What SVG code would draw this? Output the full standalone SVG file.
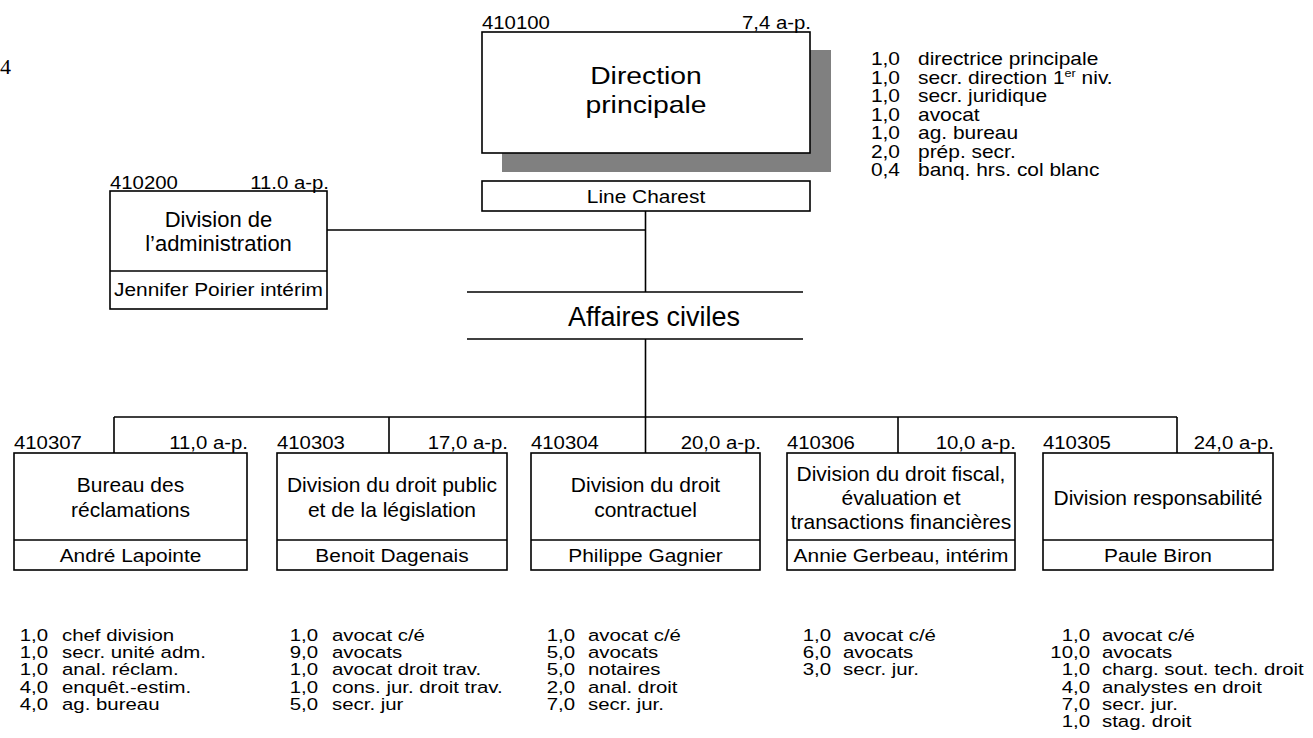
<svg xmlns="http://www.w3.org/2000/svg" width="1313" height="738" viewBox="0 0 1313 738">
<style>
text{font-family:"Liberation Sans",Arial,sans-serif;fill:#000}
.box{fill:#fff;stroke:#000;stroke-width:1.6}
.ln{stroke:#000;stroke-width:1.6;fill:none}
.t{font-size:21px;text-anchor:middle}
.big{font-size:24px;text-anchor:middle}
.nm{font-size:18.5px;text-anchor:middle}
.lb{font-size:18.5px}
.e{text-anchor:end}
.tl{font-size:18.2px}
.bl{font-size:17px}
</style>
<rect width="1313" height="738" fill="#fff"/>
<text x="0" y="74" style="font-family:'Liberation Serif',serif;font-size:22px">4</text>

<g id="connectors">
<path class="ln" d="M645.5 211V292M327 230H645.5M645.5 339V417M114 417H1177M114 417V453M389 417V453M645.5 417V453M898 417V453M1177 417V453"/>
</g>

<g id="n410100">
<rect x="502" y="50" width="329" height="122" fill="#808080"/>
<rect class="box" x="482" y="32" width="328" height="121"/>
<text class="lb" transform="translate(482 29) scale(1.1 1)">410100</text>
<text class="lb e" transform="translate(811 29) scale(1.1 1)">7,4 a-p.</text>
<text class="big" transform="translate(646 84) scale(1.18 1)">Direction</text>
<text class="big" transform="translate(646 113) scale(1.18 1)">principale</text>
<rect class="box" x="482" y="181" width="328" height="30"/>
<text class="nm" transform="translate(646 203) scale(1.13 1)">Line Charest</text>
</g>

<g id="staff410100">
<text class="tl e" transform="translate(900 65) scale(1.15 1)">1,0</text><text class="tl" transform="translate(918 65) scale(1.15 1)">directrice principale</text>
<text class="tl e" transform="translate(900 83.5) scale(1.15 1)">1,0</text><text class="tl" transform="translate(918 83.5) scale(1.15 1)">secr. direction 1<tspan font-size="11" dy="-7">er</tspan><tspan dy="7"> niv.</tspan></text>
<text class="tl e" transform="translate(900 102) scale(1.15 1)">1,0</text><text class="tl" transform="translate(918 102) scale(1.15 1)">secr. juridique</text>
<text class="tl e" transform="translate(900 120.5) scale(1.15 1)">1,0</text><text class="tl" transform="translate(918 120.5) scale(1.15 1)">avocat</text>
<text class="tl e" transform="translate(900 139) scale(1.15 1)">1,0</text><text class="tl" transform="translate(918 139) scale(1.15 1)">ag. bureau</text>
<text class="tl e" transform="translate(900 157.5) scale(1.15 1)">2,0</text><text class="tl" transform="translate(918 157.5) scale(1.15 1)">prép. secr.</text>
<text class="tl e" transform="translate(900 176) scale(1.15 1)">0,4</text><text class="tl" transform="translate(918 176) scale(1.15 1)">banq. hrs. col blanc</text>
</g>

<g id="n410200">
<rect class="box" x="110" y="191" width="217" height="118"/>
<line class="ln" x1="110" y1="271" x2="327" y2="271"/>
<text class="lb" transform="translate(110 189) scale(1.1 1)">410200</text>
<text class="lb e" transform="translate(329 189) scale(1.1 1)">11.0 a-p.</text>
<text class="t" x="218.5" y="227" style="font-size:22px">Division de</text>
<text class="t" x="218.5" y="251" style="font-size:22px">l’administration</text>
<text class="nm" transform="translate(218.5 296) scale(1.13 1)">Jennifer Poirier intérim</text>
</g>

<g id="affaires">
<line class="ln" x1="467" y1="292" x2="803" y2="292"/>
<line class="ln" x1="467" y1="339" x2="803" y2="339"/>
<text x="654" y="326" style="font-size:27px;text-anchor:middle">Affaires civiles</text>
</g>

<g id="n410307">
<rect class="box" x="14" y="453" width="233" height="117"/>
<line class="ln" x1="14" y1="540" x2="247" y2="540"/>
<text class="lb" transform="translate(14 449) scale(1.1 1)">410307</text>
<text class="lb e" transform="translate(248 449) scale(1.1 1)">11,0 a-p.</text>
<text class="t" x="130.5" y="491.5">Bureau des</text>
<text class="t" x="130.5" y="516.5">réclamations</text>
<text class="nm" transform="translate(130.5 562) scale(1.13 1)">André Lapointe</text>
</g>

<g id="n410303">
<rect class="box" x="277" y="453" width="230" height="117"/>
<line class="ln" x1="277" y1="540" x2="507" y2="540"/>
<text class="lb" transform="translate(277 449) scale(1.1 1)">410303</text>
<text class="lb e" transform="translate(508 449) scale(1.1 1)">17,0 a-p.</text>
<text class="t" x="392" y="491.5">Division du droit public</text>
<text class="t" x="392" y="516.5">et de la législation</text>
<text class="nm" transform="translate(392 562) scale(1.13 1)">Benoit Dagenais</text>
</g>

<g id="n410304">
<rect class="box" x="531" y="453" width="229" height="117"/>
<line class="ln" x1="531" y1="540" x2="760" y2="540"/>
<text class="lb" transform="translate(531 449) scale(1.1 1)">410304</text>
<text class="lb e" transform="translate(761 449) scale(1.1 1)">20,0 a-p.</text>
<text class="t" x="645.5" y="491.5">Division du droit</text>
<text class="t" x="645.5" y="516.5">contractuel</text>
<text class="nm" transform="translate(645.5 562) scale(1.13 1)">Philippe Gagnier</text>
</g>

<g id="n410306">
<rect class="box" x="787" y="453" width="228" height="117"/>
<line class="ln" x1="787" y1="540" x2="1015" y2="540"/>
<text class="lb" transform="translate(787 449) scale(1.1 1)">410306</text>
<text class="lb e" transform="translate(1016 449) scale(1.1 1)">10,0 a-p.</text>
<text class="t" x="901" y="480.5">Division du droit fiscal,</text>
<text class="t" x="901" y="504.5">évaluation et</text>
<text class="t" x="901" y="528.5">transactions financières</text>
<text class="nm" transform="translate(901 562) scale(1.13 1)">Annie Gerbeau, intérim</text>
</g>

<g id="n410305">
<rect class="box" x="1043" y="453" width="230" height="117"/>
<line class="ln" x1="1043" y1="540" x2="1273" y2="540"/>
<text class="lb" transform="translate(1043 449) scale(1.1 1)">410305</text>
<text class="lb e" transform="translate(1274 449) scale(1.1 1)">24,0 a-p.</text>
<text class="t" x="1158" y="504.5">Division responsabilité</text>
<text class="nm" transform="translate(1158 562) scale(1.13 1)">Paule Biron</text>
</g>

<g id="staff410307">
<text class="bl e" transform="translate(48 641) scale(1.2 1)">1,0</text><text class="bl" transform="translate(62 641) scale(1.2 1)">chef division</text>
<text class="bl e" transform="translate(48 658.2) scale(1.2 1)">1,0</text><text class="bl" transform="translate(62 658.2) scale(1.2 1)">secr. unité adm.</text>
<text class="bl e" transform="translate(48 675.4) scale(1.2 1)">1,0</text><text class="bl" transform="translate(62 675.4) scale(1.2 1)">anal. réclam.</text>
<text class="bl e" transform="translate(48 692.6) scale(1.2 1)">4,0</text><text class="bl" transform="translate(62 692.6) scale(1.2 1)">enquêt.-estim.</text>
<text class="bl e" transform="translate(48 709.8) scale(1.2 1)">4,0</text><text class="bl" transform="translate(62 709.8) scale(1.2 1)">ag. bureau</text>
</g>

<g id="staff410303">
<text class="bl e" transform="translate(318 641) scale(1.2 1)">1,0</text><text class="bl" transform="translate(332 641) scale(1.2 1)">avocat c/é</text>
<text class="bl e" transform="translate(318 658.2) scale(1.2 1)">9,0</text><text class="bl" transform="translate(332 658.2) scale(1.2 1)">avocats</text>
<text class="bl e" transform="translate(318 675.4) scale(1.2 1)">1,0</text><text class="bl" transform="translate(332 675.4) scale(1.2 1)">avocat droit trav.</text>
<text class="bl e" transform="translate(318 692.6) scale(1.2 1)">1,0</text><text class="bl" transform="translate(332 692.6) scale(1.2 1)">cons. jur. droit trav.</text>
<text class="bl e" transform="translate(318 709.8) scale(1.2 1)">5,0</text><text class="bl" transform="translate(332 709.8) scale(1.2 1)">secr. jur</text>
</g>

<g id="staff410304">
<text class="bl e" transform="translate(575 641) scale(1.2 1)">1,0</text><text class="bl" transform="translate(588 641) scale(1.2 1)">avocat c/é</text>
<text class="bl e" transform="translate(575 658.2) scale(1.2 1)">5,0</text><text class="bl" transform="translate(588 658.2) scale(1.2 1)">avocats</text>
<text class="bl e" transform="translate(575 675.4) scale(1.2 1)">5,0</text><text class="bl" transform="translate(588 675.4) scale(1.2 1)">notaires</text>
<text class="bl e" transform="translate(575 692.6) scale(1.2 1)">2,0</text><text class="bl" transform="translate(588 692.6) scale(1.2 1)">anal. droit</text>
<text class="bl e" transform="translate(575 709.8) scale(1.2 1)">7,0</text><text class="bl" transform="translate(588 709.8) scale(1.2 1)">secr. jur.</text>
</g>

<g id="staff410306">
<text class="bl e" transform="translate(831 641) scale(1.2 1)">1,0</text><text class="bl" transform="translate(843 641) scale(1.2 1)">avocat c/é</text>
<text class="bl e" transform="translate(831 658.2) scale(1.2 1)">6,0</text><text class="bl" transform="translate(843 658.2) scale(1.2 1)">avocats</text>
<text class="bl e" transform="translate(831 675.4) scale(1.2 1)">3,0</text><text class="bl" transform="translate(843 675.4) scale(1.2 1)">secr. jur.</text>
</g>

<g id="staff410305">
<text class="bl e" transform="translate(1090 641) scale(1.2 1)">1,0</text><text class="bl" transform="translate(1102 641) scale(1.2 1)">avocat c/é</text>
<text class="bl e" transform="translate(1090 658.2) scale(1.2 1)">10,0</text><text class="bl" transform="translate(1102 658.2) scale(1.2 1)">avocats</text>
<text class="bl e" transform="translate(1090 675.4) scale(1.2 1)">1,0</text><text class="bl" transform="translate(1102 675.4) scale(1.2 1)">charg. sout. tech. droit</text>
<text class="bl e" transform="translate(1090 692.6) scale(1.2 1)">4,0</text><text class="bl" transform="translate(1102 692.6) scale(1.2 1)">analystes en droit</text>
<text class="bl e" transform="translate(1090 709.8) scale(1.2 1)">7,0</text><text class="bl" transform="translate(1102 709.8) scale(1.2 1)">secr. jur.</text>
<text class="bl e" transform="translate(1090 727) scale(1.2 1)">1,0</text><text class="bl" transform="translate(1102 727) scale(1.2 1)">stag. droit</text>
</g>
</svg>
